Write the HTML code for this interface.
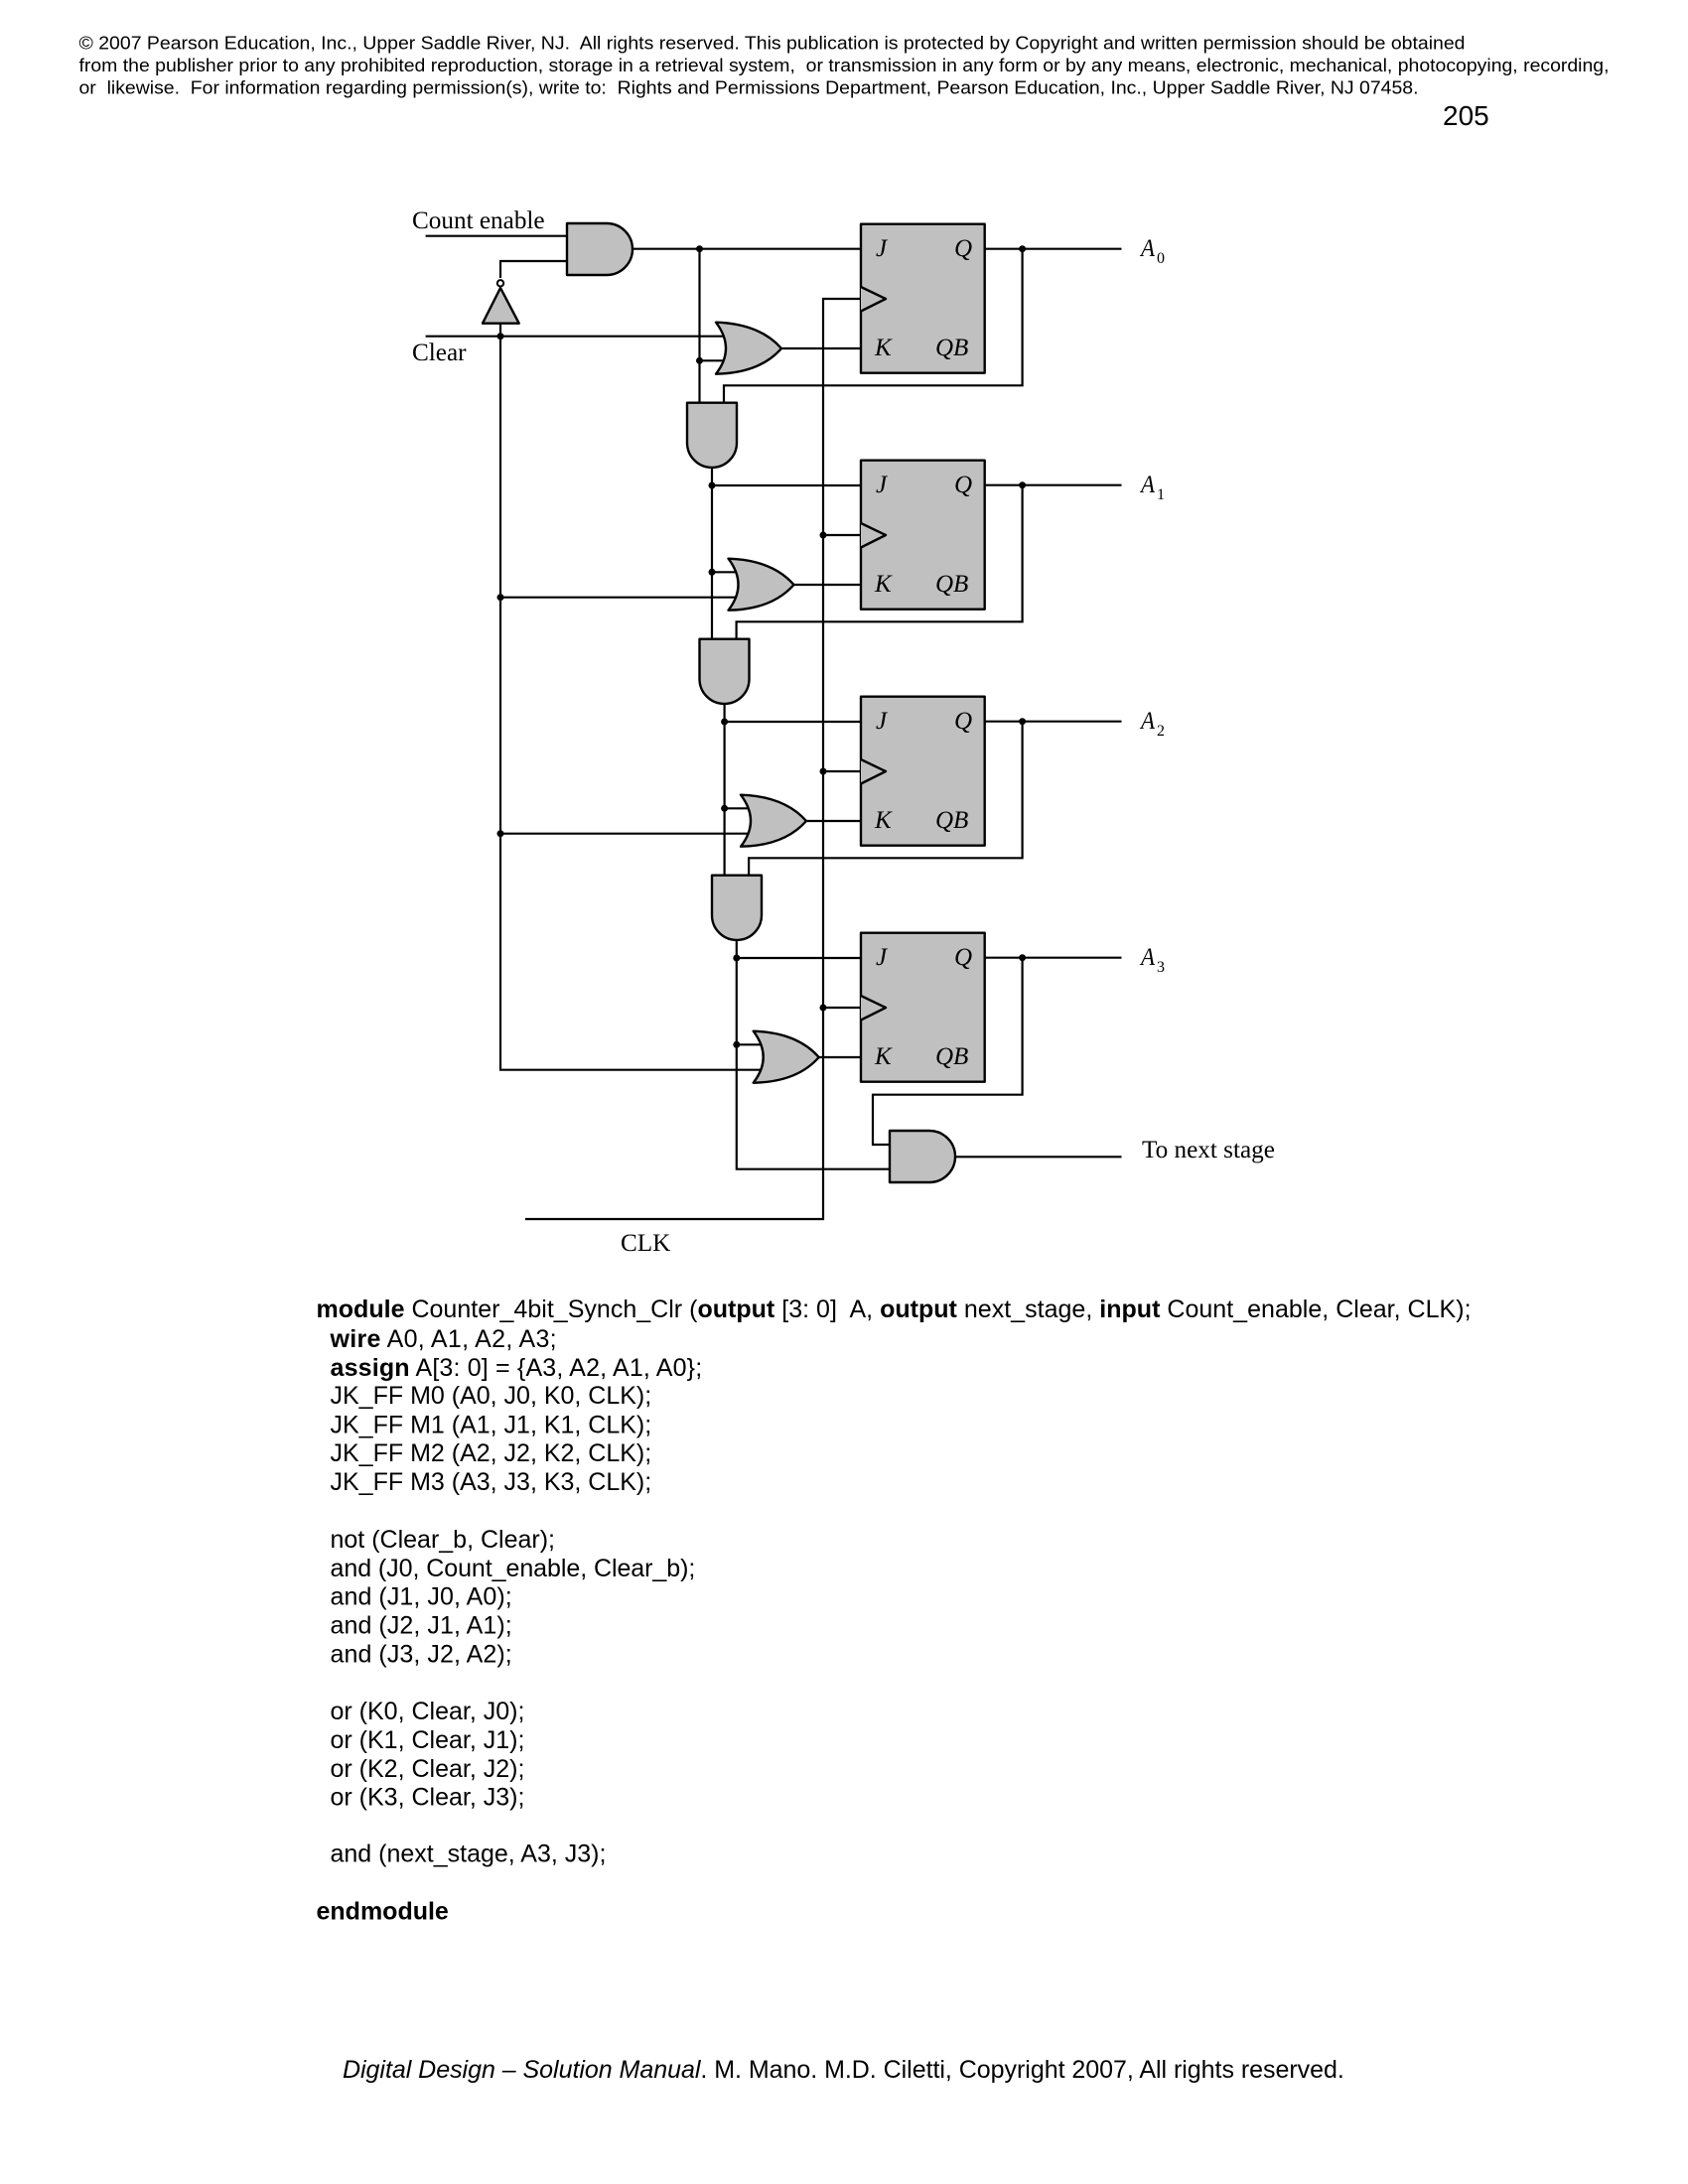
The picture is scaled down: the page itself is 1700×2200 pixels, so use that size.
<!DOCTYPE html>
<html><head><meta charset="utf-8"><style>
html,body{margin:0;padding:0;background:#fff}
svg{display:block}
text{white-space:pre;fill:#000}
.h{font:18.2px "Liberation Sans",sans-serif}
.c{font:25px "Liberation Sans",sans-serif}
b,.b{font-weight:bold}
.t{font:25.2px "Liberation Serif",serif}
.i{font:italic 25px "Liberation Serif",serif}
.s{font:16px "Liberation Serif",serif}
.w{fill:none;stroke:#000;stroke-width:2.2}
.g{fill:#c0c0c0;stroke:#000;stroke-width:2.4;stroke-linejoin:round}
.d{fill:#000}
</style></head><body>
<svg xmlns="http://www.w3.org/2000/svg" width="1700" height="2200" viewBox="0 0 1700 2200">
<rect width="1700" height="2200" fill="#fff"/>
<text class="h" x="79.5" y="49.5" textLength="1396" lengthAdjust="spacingAndGlyphs">© 2007 Pearson Education, Inc., Upper Saddle River, NJ.  All rights reserved. This publication is protected by Copyright and written permission should be obtained</text>
<text class="h" x="79.5" y="72" textLength="1541" lengthAdjust="spacingAndGlyphs">from the publisher prior to any prohibited reproduction, storage in a retrieval system,  or transmission in any form or by any means, electronic, mechanical, photocopying, recording,</text>
<text class="h" x="79.5" y="94.5" textLength="1349" lengthAdjust="spacingAndGlyphs">or  likewise.  For information regarding permission(s), write to:  Rights and Permissions Department, Pearson Education, Inc., Upper Saddle River, NJ 07458.</text>
<text x="1453" y="126" style="font:28px 'Liberation Sans',sans-serif">205</text>

<!-- wires -->
<path class="w" d="M428.6 237.7H571M571 263H504V280M428.6 338.7H730M504 326V1077.7H768M504 601.7H743M504 839.7H756"/>
<path class="w" d="M637 250.7H867M704.5 250.7V405.7M704.5 363.3H730"/>
<path class="w" d="M787 351H867M717 471V643.7M717 489H867M717 576.3H741M799.5 589H867"/>
<path class="w" d="M729.6 709V881.7M729.6 727H867M729.6 814.3H753M812 827H867"/>
<path class="w" d="M741.8 947V1177.7H896M741.8 965H867M741.8 1052.3H766M824.7 1065H867"/>
<path class="w" d="M529 1228H829V301H867M829 539H867M829 777H867M829 1015H867"/>
<path class="w" d="M991.7 250.7H1129.5M991.7 488.7H1129.5M991.7 726.7H1129.5M991.7 964.7H1129.5"/>
<path class="w" d="M1029.6 250.7V388.3H729V405.7M1029.6 488.7V626.3H741.6V643.7M1029.6 726.7V864.3H754.1V881.7M1029.6 964.7V1102.7H879V1153H896M962 1165.3H1129.5"/>

<!-- gates -->
<path class="g" d="M571 225H611A26 26 0 0 1 611 277H571Z"/>
<path class="g" d="M486 325.7L504 290L522.7 325.7Z"/>
<circle cx="504" cy="285.3" r="3.2" fill="#fff" stroke="#000" stroke-width="2"/>
<path class="g" d="M896 1139H936A26 26 0 0 1 936 1191H896Z"/>

<path class="g" d="M721 324.7Q765 326 787 351Q765 376 721 376.7Q741 351 721 324.7Z"/>
<path class="g" d="M733.5 562.7Q777.5 564 799.5 589Q777.5 614 733.5 614.7Q753.5 589 733.5 562.7Z"/>
<path class="g" d="M746 800.7Q790 802 812 827Q790 852 746 852.7Q766 827 746 800.7Z"/>
<path class="g" d="M758.7 1038.7Q802.7 1040 824.7 1065Q802.7 1090 758.7 1090.7Q778.7 1065 758.7 1038.7Z"/>

<path class="g" d="M692 405.7H742V446A25 25 0 0 1 692 446Z"/>
<path class="g" d="M704.5 643.7H754.5V684A25 25 0 0 1 704.5 684Z"/>
<path class="g" d="M717 881.7H767V922A25 25 0 0 1 717 922Z"/>

<!-- flip flops -->
<rect class="g" x="867" y="225.7" width="124.7" height="150"/>
<rect class="g" x="867" y="463.7" width="124.7" height="150"/>
<rect class="g" x="867" y="701.7" width="124.7" height="150"/>
<rect class="g" x="867" y="939.7" width="124.7" height="150"/>
<path class="g" d="M867 289L892 301L867 313.5"/>
<path class="g" d="M867 527L892 539L867 551.5"/>
<path class="g" d="M867 765L892 777L867 789.5"/>
<path class="g" d="M867 1003L892 1015L867 1027.5"/>

<!-- dots -->
<g class="d">
<circle cx="504" cy="338.7" r="3.5"/><circle cx="504" cy="601.7" r="3.5"/><circle cx="504" cy="839.7" r="3.5"/>
<circle cx="704.5" cy="250.7" r="3.5"/><circle cx="704.5" cy="363.3" r="3.5"/>
<circle cx="717" cy="489" r="3.5"/><circle cx="717" cy="576.3" r="3.5"/>
<circle cx="729.6" cy="727" r="3.5"/><circle cx="729.6" cy="814.3" r="3.5"/>
<circle cx="741.8" cy="965" r="3.5"/><circle cx="741.8" cy="1052.3" r="3.5"/>
<circle cx="829" cy="539" r="3.5"/><circle cx="829" cy="777" r="3.5"/><circle cx="829" cy="1015" r="3.5"/>
<circle cx="1029.6" cy="250.7" r="3.5"/><circle cx="1029.6" cy="488.7" r="3.5"/><circle cx="1029.6" cy="726.7" r="3.5"/><circle cx="1029.6" cy="964.7" r="3.5"/>
</g>

<!-- FF labels -->
<text class="i" x="882" y="258">J</text><text class="i" x="961" y="258">Q</text><text class="i" x="881" y="358">K</text><text class="i" x="942" y="358">QB</text>
<text class="i" x="882" y="496">J</text><text class="i" x="961" y="496">Q</text><text class="i" x="881" y="596">K</text><text class="i" x="942" y="596">QB</text>
<text class="i" x="882" y="734">J</text><text class="i" x="961" y="734">Q</text><text class="i" x="881" y="834">K</text><text class="i" x="942" y="834">QB</text>
<text class="i" x="882" y="972">J</text><text class="i" x="961" y="972">Q</text><text class="i" x="881" y="1072">K</text><text class="i" x="942" y="1072">QB</text>

<text class="i" x="1149" y="258" textLength="14" lengthAdjust="spacingAndGlyphs">A</text><text class="s" x="1165" y="265">0</text>
<text class="i" x="1149" y="496" textLength="14" lengthAdjust="spacingAndGlyphs">A</text><text class="s" x="1165" y="503">1</text>
<text class="i" x="1149" y="734" textLength="14" lengthAdjust="spacingAndGlyphs">A</text><text class="s" x="1165" y="741">2</text>
<text class="i" x="1149" y="972" textLength="14" lengthAdjust="spacingAndGlyphs">A</text><text class="s" x="1165" y="979">3</text>

<text class="t" x="415" y="230">Count enable</text>
<text class="t" x="415" y="363">Clear</text>
<text class="t" x="1150" y="1166">To next stage</text>
<text class="t" x="625" y="1260">CLK</text>

<!-- code -->
<text class="c" x="318.5" y="1327" style="letter-spacing:.015px"><tspan class="b">module</tspan> Counter_4bit_Synch_Clr (<tspan class="b">output</tspan> [3: 0]  A, <tspan class="b">output</tspan> next_stage, <tspan class="b">input</tspan> Count_enable, Clear, CLK);</text>
<text class="c" x="332.5" y="1357" style="letter-spacing:.3px"><tspan class="b">wire</tspan> A0, A1, A2, A3;</text>
<text class="c" x="332.5" y="1386" style="letter-spacing:.17px"><tspan class="b">assign</tspan> A[3: 0] = {A3, A2, A1, A0};</text>
<text class="c" x="332.5" y="1414">JK_FF M0 (A0, J0, K0, CLK);</text>
<text class="c" x="332.5" y="1443.5">JK_FF M1 (A1, J1, K1, CLK);</text>
<text class="c" x="332.5" y="1472">JK_FF M2 (A2, J2, K2, CLK);</text>
<text class="c" x="332.5" y="1501">JK_FF M3 (A3, J3, K3, CLK);</text>
<text class="c" x="332.5" y="1559">not (Clear_b, Clear);</text>
<text class="c" x="332.5" y="1588" style="letter-spacing:-.06px">and (J0, Count_enable, Clear_b);</text>
<text class="c" x="332.5" y="1616.5" style="letter-spacing:.07px">and (J1, J0, A0);</text>
<text class="c" x="332.5" y="1645.5" style="letter-spacing:.07px">and (J2, J1, A1);</text>
<text class="c" x="332.5" y="1674.5" style="letter-spacing:.07px">and (J3, J2, A2);</text>
<text class="c" x="332.5" y="1732">or (K0, Clear, J0);</text>
<text class="c" x="332.5" y="1761">or (K1, Clear, J1);</text>
<text class="c" x="332.5" y="1790">or (K2, Clear, J2);</text>
<text class="c" x="332.5" y="1818.5">or (K3, Clear, J3);</text>
<text class="c" x="332.5" y="1875.5">and (next_stage, A3, J3);</text>
<text class="c b" x="318.5" y="1933.5">endmodule</text>

<text class="c" x="345" y="2093" style="letter-spacing:-.03px"><tspan font-style="italic">Digital Design – Solution Manual</tspan>. M. Mano. M.D. Ciletti, Copyright 2007, All rights reserved.</text>
</svg>
</body></html>
